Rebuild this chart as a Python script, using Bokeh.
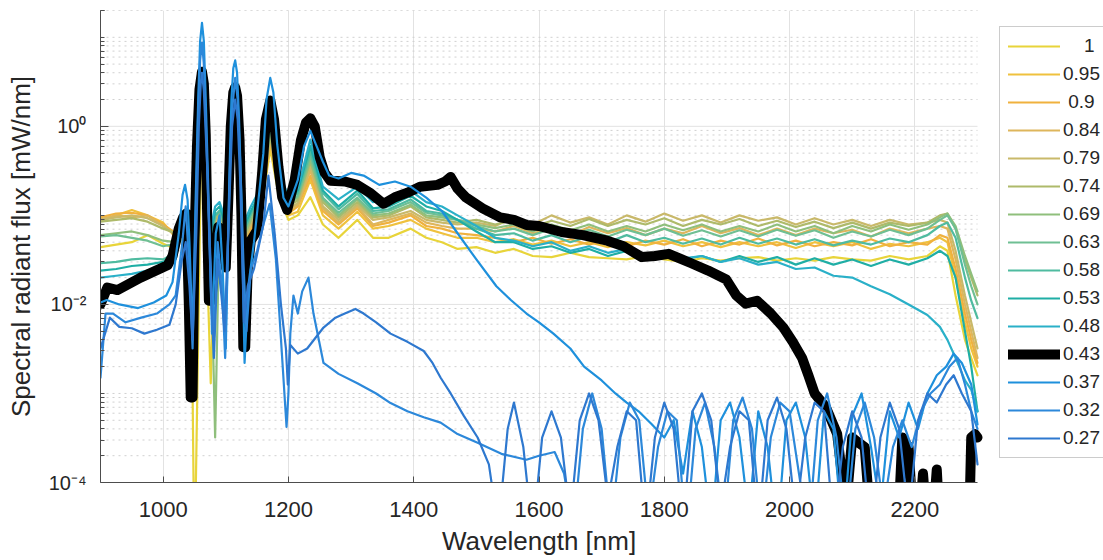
from bokeh.plotting import figure
from bokeh.models import Range1d, FixedTicker, CustomJSTickFormatter, Legend, LegendItem, Title
from bokeh.embed import file_html
from bokeh.resources import INLINE

# ---------------- data ----------------
labels = ["\u00a0\u00a0\u00a0\u00a01", "0.95", "\u00a00.9", "0.84", "0.79", "0.74", "0.69", "0.63",
          "0.58", "0.53", "0.48", "0.43", "0.37", "0.32", "0.27"]
colors = ["#E8D43A", "#EFC13E", "#F0B13E", "#DEB65C", "#C9B96A", "#AEBA6A", "#8FBF7C", "#6FBF93",
          "#4FBBA0", "#1FAEA5", "#2AB0C8", "#000000", "#1E90DC", "#2C88DA", "#2E78CF"]

# wavelength grid shared by the "flat" series (1 ... 0.48)
wl_flat = [900, 925, 950, 975, 1000, 1020, 1035, 1045, 1050, 1062,
           1076, 1083, 1090, 1100, 1115, 1128, 1140, 1155, 1171, 1185,
           1200, 1215, 1235, 1255, 1280, 1310, 1335, 1360, 1395, 1420,
           1445, 1470, 1500, 1530, 1560, 1590, 1620, 1650, 1680, 1710,
           1740, 1770, 1800, 1830, 1860, 1890, 1920, 1950, 1980, 2010,
           2040, 2070, 2100, 2130, 2160, 2190, 2220, 2240, 2252, 2265,
           2280, 2290, 2300]

flux_100 = [0.044, 0.047, 0.050, 0.060, 0.048, 0.042, 0.063, 0.025, 1e-5, 2.0,
            0.0013, 0.05, 0.079, 0.04, 1.0, 0.032, 0.05, 0.1, 0.56, 0.16,
            0.089, 0.1, 0.16, 0.079, 0.056, 0.089, 0.056, 0.056, 0.071, 0.056,
            0.05, 0.042, 0.044, 0.038, 0.042, 0.035, 0.034, 0.038, 0.034, 0.033,
            0.032, 0.035, 0.032, 0.030, 0.033, 0.031, 0.033, 0.034, 0.031, 0.033,
            0.031, 0.034, 0.032, 0.031, 0.035, 0.032, 0.035, 0.045, 0.040, 0.0126,
            0.004, 0.0025, 0.0016]
flux_095 = [0.087, 0.1, 0.115, 0.1, 0.083, 0.056, 0.071, 0.04, 0.063, 2.2,
            0.025, 0.063, 0.089, 0.05, 1.26, 0.04, 0.063, 0.11, 0.63, 0.18,
            0.1, 0.11, 0.25, 0.1, 0.071, 0.11, 0.071, 0.076, 0.089, 0.071,
            0.063, 0.056, 0.056, 0.05, 0.054, 0.047, 0.052, 0.045, 0.05, 0.044,
            0.05, 0.046, 0.052, 0.045, 0.05, 0.044, 0.05, 0.045, 0.05, 0.043,
            0.05, 0.045, 0.05, 0.042, 0.048, 0.045, 0.05, 0.056, 0.05, 0.02,
            0.0063, 0.0032, 0.002]
flux_090 = [0.095, 0.105, 0.107, 0.1, 0.079, 0.063, 0.079, 0.045, 0.079, 2.5,
            0.032, 0.071, 0.1, 0.056, 1.41, 0.045, 0.071, 0.126, 0.71, 0.2,
            0.105, 0.126, 0.28, 0.112, 0.079, 0.12, 0.076, 0.083, 0.1, 0.076,
            0.071, 0.063, 0.06, 0.056, 0.05, 0.056, 0.048, 0.054, 0.047, 0.054,
            0.045, 0.052, 0.047, 0.054, 0.045, 0.052, 0.047, 0.055, 0.046, 0.052,
            0.045, 0.05, 0.046, 0.054, 0.045, 0.05, 0.047, 0.06, 0.056, 0.025,
            0.0079, 0.004, 0.0022]
flux_084 = [0.091, 0.1, 0.095, 0.1, 0.076, 0.06, 0.079, 0.05, 0.079, 2.5,
            0.035, 0.079, 0.1, 0.063, 1.41, 0.05, 0.079, 0.126, 0.71, 0.2,
            0.112, 0.132, 0.32, 0.12, 0.083, 0.126, 0.079, 0.089, 0.105, 0.083,
            0.076, 0.071, 0.071, 0.066, 0.076, 0.063, 0.071, 0.06, 0.074, 0.063,
            0.072, 0.06, 0.071, 0.063, 0.076, 0.063, 0.072, 0.06, 0.071, 0.06,
            0.071, 0.063, 0.069, 0.058, 0.071, 0.063, 0.071, 0.076, 0.071, 0.032,
            0.01, 0.005, 0.0025]
flux_079 = [0.089, 0.095, 0.1, 0.093, 0.076, 0.06, 0.079, 0.05, 0.079, 2.8,
            0.04, 0.089, 0.105, 0.063, 1.58, 0.05, 0.079, 0.132, 0.79, 0.21,
            0.117, 0.138, 0.35, 0.126, 0.089, 0.132, 0.089, 0.095, 0.112, 0.089,
            0.083, 0.079, 0.083, 0.076, 0.095, 0.079, 0.1, 0.083, 0.095, 0.079,
            0.1, 0.085, 0.105, 0.087, 0.1, 0.083, 0.1, 0.087, 0.095, 0.079,
            0.093, 0.079, 0.089, 0.076, 0.089, 0.079, 0.083, 0.089, 0.083, 0.04,
            0.0126, 0.0063, 0.0032]
flux_074 = [0.085, 0.089, 0.093, 0.085, 0.071, 0.063, 0.083, 0.05, 0.089, 2.8,
            0.045, 0.089, 0.112, 0.066, 1.58, 0.056, 0.089, 0.141, 0.79, 0.224,
            0.126, 0.148, 0.4, 0.141, 0.095, 0.141, 0.095, 0.1, 0.126, 0.095,
            0.089, 0.083, 0.089, 0.079, 0.089, 0.074, 0.087, 0.076, 0.091, 0.076,
            0.089, 0.079, 0.093, 0.076, 0.089, 0.079, 0.091, 0.076, 0.087, 0.074,
            0.085, 0.072, 0.083, 0.071, 0.083, 0.076, 0.083, 0.1, 0.105, 0.071,
            0.032, 0.02, 0.0126]
flux_069 = [0.06, 0.063, 0.066, 0.06, 0.052, 0.05, 0.079, 0.05, 0.089, 3.2,
            0.05, 0.00032, 0.1, 0.071, 1.78, 0.056, 0.089, 0.148, 0.89, 0.24,
            0.132, 0.158, 0.42, 0.151, 0.1, 0.151, 0.1, 0.105, 0.132, 0.1,
            0.095, 0.089, 0.079, 0.072, 0.079, 0.066, 0.079, 0.068, 0.079, 0.066,
            0.076, 0.066, 0.079, 0.068, 0.079, 0.066, 0.076, 0.066, 0.079, 0.066,
            0.076, 0.063, 0.076, 0.066, 0.079, 0.069, 0.079, 0.095, 0.105, 0.076,
            0.035, 0.022, 0.014]
flux_063 = [0.058, 0.06, 0.056, 0.052, 0.045, 0.048, 0.079, 0.05, 0.1, 3.4,
            0.05, 0.1, 0.112, 0.071, 2.0, 0.063, 0.1, 0.158, 1.0, 0.25,
            0.138, 0.166, 0.47, 0.158, 0.107, 0.158, 0.105, 0.112, 0.141, 0.107,
            0.1, 0.089, 0.076, 0.066, 0.071, 0.06, 0.071, 0.06, 0.069, 0.058,
            0.069, 0.06, 0.071, 0.059, 0.068, 0.058, 0.068, 0.058, 0.069, 0.059,
            0.068, 0.056, 0.066, 0.058, 0.069, 0.06, 0.071, 0.089, 0.1, 0.071,
            0.028, 0.016, 0.01]
flux_058 = [0.029, 0.03, 0.032, 0.033, 0.032, 0.038, 0.089, 0.056, 0.1, 3.5,
            0.056, 0.1, 0.112, 0.079, 2.2, 0.063, 0.105, 0.166, 1.12, 0.26,
            0.145, 0.178, 0.52, 0.178, 0.117, 0.174, 0.112, 0.117, 0.151, 0.112,
            0.105, 0.089, 0.071, 0.06, 0.063, 0.052, 0.06, 0.05, 0.058, 0.05,
            0.06, 0.05, 0.056, 0.048, 0.055, 0.047, 0.056, 0.048, 0.055, 0.047,
            0.054, 0.046, 0.052, 0.047, 0.055, 0.05, 0.06, 0.076, 0.083, 0.056,
            0.02, 0.011, 0.007]
flux_053 = [0.024, 0.025, 0.027, 0.028, 0.03, 0.035, 0.1, 0.063, 0.112, 3.6,
            0.063, 0.112, 0.126, 0.079, 2.5, 0.071, 0.112, 0.178, 1.26, 0.28,
            0.151, 0.19, 0.6, 0.19, 0.126, 0.19, 0.12, 0.126, 0.166, 0.126,
            0.112, 0.089, 0.066, 0.05, 0.05, 0.042, 0.045, 0.038, 0.042, 0.035,
            0.04, 0.034, 0.038, 0.032, 0.035, 0.03, 0.035, 0.03, 0.034, 0.028,
            0.033, 0.028, 0.032, 0.027, 0.032, 0.028, 0.033, 0.04, 0.035, 0.02,
            0.005, 0.002, 0.00063]
flux_048 = [0.02, 0.021, 0.022, 0.024, 0.026, 0.032, 0.112, 0.063, 0.126, 3.8,
            0.071, 0.126, 0.141, 0.089, 2.8, 0.079, 0.126, 0.2, 1.41, 0.32,
            0.158, 0.2, 0.71, 0.21, 0.151, 0.21, 0.141, 0.151, 0.19, 0.141,
            0.126, 0.1, 0.076, 0.056, 0.052, 0.045, 0.05, 0.04, 0.045, 0.038,
            0.042, 0.035, 0.04, 0.033, 0.035, 0.03, 0.033, 0.028, 0.03, 0.025,
            0.026, 0.021, 0.02, 0.016, 0.013, 0.01, 0.0076, 0.0056, 0.004, 0.0025,
            0.0014, 0.0011, 0.00063]

# 0.43 (thick black)
wl_043 = [900, 911, 927, 964, 1007, 1015, 1025, 1032, 1037, 1041,
          1044, 1047, 1050, 1054, 1058, 1062, 1065, 1068, 1071, 1073,
          1077, 1082, 1088, 1095, 1100, 1104, 1108, 1112, 1115, 1118,
          1122, 1125, 1128, 1131, 1135, 1140, 1150, 1158, 1164, 1171,
          1177, 1184, 1190, 1198, 1210, 1220, 1228, 1235, 1242, 1250,
          1258, 1267, 1290, 1310, 1330, 1352, 1370, 1390, 1410, 1438,
          1450, 1459, 1470, 1483, 1510, 1538, 1560, 1580, 1600, 1636,
          1670, 1709, 1735, 1764, 1785, 1807, 1843, 1870, 1899, 1915,
          1930, 1948, 1970, 1990, 2005, 2020, 2030, 2040, 2058, 2076,
          2090, 2100, 2110, 2120, 2130, 2140, 2170, 2180, 2190, 2198,
          2206, 2213, 2220, 2228, 2235, 2240, 2245, 2285, 2290, 2296,
          2300]
flux_043 = [0.01, 0.0155, 0.0145, 0.02, 0.0275, 0.035, 0.071, 0.095, 0.105, 0.01,
            0.0009, 0.0009, 0.05, 0.6, 2.6, 4.1, 3.0, 0.8, 0.05, 0.011,
            0.011, 0.032, 0.074, 0.04, 0.026, 0.15, 1.0, 2.4, 2.75, 2.2,
            0.7, 0.1, 0.0033, 0.0033, 0.025, 0.052, 0.068, 0.3, 1.2, 1.95,
            1.2, 0.35, 0.16, 0.115, 0.25, 0.7, 1.1, 1.23, 1.0, 0.45,
            0.3, 0.245, 0.24, 0.22, 0.18, 0.135, 0.16, 0.18, 0.21, 0.22,
            0.24, 0.27, 0.2, 0.16, 0.12, 0.095, 0.089, 0.078, 0.076, 0.065,
            0.06, 0.052, 0.045, 0.034, 0.035, 0.037, 0.029, 0.024, 0.019, 0.0126,
            0.0102, 0.011, 0.0079, 0.0055, 0.0038, 0.0025, 0.0016, 0.001, 0.0007, 0.00035,
            5e-5, 0.00032, 0.00028, 0.00025, 3e-5, 1e-5, 1e-5, 0.00032, 0.00025, 3e-5,
            3e-5, 0.000126, 3e-5, 3e-5, 0.00014, 3e-5, 1e-5, 1e-5, 0.00032, 0.00035,
            0.00032]

# 0.37
wl_037 = [900, 910, 930, 960, 985, 1005, 1015, 1025, 1031, 1035,
          1039, 1042, 1047, 1052, 1056, 1059, 1062, 1065, 1068, 1072,
          1078, 1084, 1090, 1095, 1100, 1106, 1109, 1112, 1115, 1118,
          1121, 1125, 1130, 1136, 1145, 1160, 1165, 1171, 1176, 1182,
          1192, 1200, 1215, 1225, 1235, 1245, 1255, 1265, 1280, 1300,
          1320, 1345, 1370, 1395, 1420, 1445, 1470, 1500, 1532, 1555,
          1580, 1600, 1623, 1650, 1672, 1700, 1722, 1740, 1759, 1780,
          1800, 1815, 1830, 1845, 1860, 1875, 1890, 1905, 1920, 1935,
          1950, 1965, 1980, 1995, 2010, 2025, 2040, 2055, 2070, 2085,
          2100, 2115, 2130, 2145, 2160, 2175, 2190, 2205, 2220, 2235,
          2250, 2262, 2275, 2290, 2300]
flux_037 = [0.0105, 0.0112, 0.01, 0.0091, 0.0105, 0.0126, 0.0178, 0.063, 0.17, 0.22,
            0.15, 0.05, 0.0043, 0.158, 2.0, 9.0, 14.5, 9.0, 2.0, 0.2,
            0.0047, 0.063, 0.1, 0.025, 0.0032, 0.32, 2.0, 4.5, 5.5, 4.0,
            1.3, 0.15, 0.0022, 0.016, 0.05, 0.5, 2.0, 3.5, 2.4, 0.63,
            0.158, 0.126, 0.25, 0.6, 0.89, 0.6, 0.4, 0.28, 0.26, 0.3,
            0.28, 0.22, 0.24, 0.21, 0.158, 0.112, 0.063, 0.032, 0.016, 0.0112,
            0.0079, 0.0063, 0.0047, 0.0032, 0.002, 0.0014, 0.001, 0.00079, 0.00063, 0.00045,
            0.00032, 0.0005, 0.000126, 0.00063, 0.00025, 3e-5, 0.0005, 0.00079, 0.00032, 4e-5,
            0.00063, 0.00025, 2.5e-5, 0.0005, 0.00079, 0.00032, 3e-5, 0.00063, 0.0004, 2.5e-5,
            0.00056, 0.001, 0.00025, 5e-5, 0.00063, 0.00032, 0.00079, 0.0004, 0.001, 0.0016,
            0.002, 0.0028, 0.0022, 0.00126, 0.00045]

# 0.32
wl_032 = [900, 908, 920, 940, 965, 990, 1010, 1020, 1030, 1036,
          1042, 1047, 1052, 1056, 1059, 1062, 1065, 1068, 1072, 1076,
          1081, 1087, 1094, 1099, 1106, 1110, 1115, 1119, 1123, 1128,
          1133, 1140, 1150, 1160, 1170, 1180, 1190, 1197, 1200, 1203,
          1208, 1215, 1222, 1232, 1240, 1256, 1280, 1310, 1340, 1363,
          1390, 1416, 1443, 1470, 1502, 1540, 1580, 1600, 1625, 1640,
          1655, 1670, 1685, 1700, 1715, 1730, 1745, 1760, 1775, 1790,
          1805, 1820, 1835, 1850, 1865, 1880, 1895, 1910, 1925, 1940,
          1955, 1970, 1985, 2000, 2015, 2030, 2045, 2060, 2075, 2090,
          2105, 2120, 2135, 2150, 2165, 2180, 2195, 2210, 2225, 2240,
          2255, 2268, 2280, 2290, 2300]
flux_032 = [0.0015, 0.0079, 0.0079, 0.0063, 0.0071, 0.0079, 0.01, 0.0126, 0.045, 0.126,
            0.025, 0.0032, 0.1, 1.5, 5.5, 8.7, 5.0, 1.2, 0.15, 0.025,
            0.004, 0.05, 0.016, 0.0025, 0.25, 1.5, 3.5, 2.0, 0.4, 0.032,
            0.005, 0.025, 0.04, 0.079, 0.135, 0.032, 0.0025, 0.00042, 0.001, 0.0047,
            0.0126, 0.0079, 0.014, 0.02, 0.0079, 0.0022, 0.00166, 0.0013, 0.001, 0.00078,
            0.00063, 0.00054, 0.00047, 0.00035, 0.00028, 0.00021, 0.00018, 0.0002, 0.00022, 0.000126,
            3e-5, 0.0004, 0.001, 0.0004, 3e-5, 0.00032, 0.00079, 0.0005, 4e-5, 0.00025,
            0.00063, 0.0005, 2.5e-5, 0.0004, 0.00079, 0.00025, 3e-5, 0.0005, 0.0009, 0.0004,
            3e-5, 0.00032, 0.00079, 0.00063, 0.000126, 2.5e-5, 0.0005, 0.001, 0.00032, 3e-5,
            0.0004, 0.00079, 0.00032, 5e-5, 0.00025, 0.0005, 0.00025, 0.00063, 0.001, 0.00126,
            0.002, 0.0025, 0.00126, 0.00063, 0.0004]

# 0.27
wl_027 = [900, 915, 930, 950, 970, 990, 1010, 1020, 1030, 1036,
          1042, 1047, 1053, 1057, 1060, 1062, 1065, 1070, 1076, 1081,
          1087, 1093, 1098, 1106, 1110, 1115, 1119, 1123, 1129, 1135,
          1145, 1160, 1168, 1178, 1188, 1196, 1199, 1203, 1215, 1230,
          1256, 1275, 1290, 1307, 1320, 1340, 1363, 1390, 1416, 1430,
          1443, 1459, 1480, 1502, 1520, 1535, 1550, 1560, 1575, 1590,
          1605, 1620, 1635, 1650, 1665, 1680, 1695, 1710, 1725, 1740,
          1755, 1770, 1785, 1800, 1815, 1830, 1845, 1860, 1875, 1890,
          1905, 1920, 1935, 1950, 1965, 1980, 1995, 2010, 2025, 2040,
          2055, 2070, 2085, 2100, 2115, 2130, 2145, 2160, 2175, 2190,
          2205, 2220, 2235, 2250, 2262, 2275, 2290, 2300]
flux_027 = [0.0032, 0.0071, 0.0056, 0.0054, 0.0047, 0.0052, 0.0059, 0.01, 0.032, 0.05,
            0.016, 0.004, 0.063, 1.0, 3.0, 4.0, 2.5, 0.4, 0.016, 0.0025,
            0.032, 0.0126, 0.005, 0.158, 1.0, 2.0, 1.2, 0.25, 0.0063, 0.016,
            0.025, 0.079, 0.28, 0.063, 0.01, 0.0032, 0.00126, 0.0035, 0.0028, 0.0032,
            0.0055, 0.0071, 0.0079, 0.0089, 0.0079, 0.0063, 0.0047, 0.0038, 0.003, 0.0022,
            0.0015, 0.001, 0.00056, 0.00032, 0.00016, 3e-5, 0.0004, 0.00079, 0.00025, 2.5e-5,
            0.00032, 0.00063, 0.00032, 4e-5, 0.0005, 0.001, 0.0005, 6.3e-5, 0.00025, 0.00063,
            0.0005, 3e-5, 0.00032, 0.00079, 0.0004, 3e-5, 0.00063, 0.001, 0.0005, 5e-5,
            0.00025, 0.00063, 0.0005, 3e-5, 0.0005, 0.0009, 0.0004, 4e-5, 0.00032, 0.00079,
            0.00063, 3e-5, 0.00025, 0.00063, 0.00032, 2.5e-5, 0.00032, 0.00079, 0.0004, 4e-5,
            0.0005, 0.001, 0.00079, 0.00126, 0.0016, 0.001, 0.00063, 0.00016]

x_ticks = [1000, 1200, 1400, 1600, 1800, 2000, 2200]
y_ticks = [1e-4, 1e-2, 1.0]
x_min, x_max = 900, 2300

series = [
    (wl_flat, flux_100), (wl_flat, flux_095), (wl_flat, flux_090), (wl_flat, flux_084),
    (wl_flat, flux_079), (wl_flat, flux_074), (wl_flat, flux_069), (wl_flat, flux_063),
    (wl_flat, flux_058), (wl_flat, flux_053), (wl_flat, flux_048), (wl_043, flux_043),
    (wl_037, flux_037), (wl_032, flux_032), (wl_027, flux_027),
]

# ---------------- figure ----------------
FONT = "Liberation Sans"
FRAME_L, FRAME_R_AXES, FRAME_R = 100, 977, 1103   # axes box ends at 977 px; frame runs on to hold the legend
x_end = x_min + (x_max - x_min) * (FRAME_R - FRAME_L) / (FRAME_R_AXES - FRAME_L)

p = figure(width=1103, height=560, output_backend="svg", toolbar_location=None,
           y_axis_type="log", x_range=Range1d(x_min, x_end), y_range=Range1d(1e-4, 20),
           min_border_left=FRAME_L, min_border_right=0, min_border_top=10, min_border_bottom=78)
p.outline_line_color = None
p.background_fill_color = "white"

minor_y = [m * 10.0 ** e for e in range(-4, 2) for m in range(1, 10)
           if m * 10.0 ** e <= 20.0001 and (m * 10.0 ** e) not in y_ticks]
minor_y.append(20.0)

# horizontal grid lines limited to the axes box (900..2300 nm)
p.ygrid.visible = False
p.multi_line([[x_min, x_max]] * len(minor_y), [[v, v] for v in minor_y],
             line_color="#d0d0d0", line_width=1, line_dash="2 4")
p.multi_line([[x_min, x_max]] * len(y_ticks), [[v, v] for v in y_ticks],
             line_color="#e2e2e2", line_width=1)

renderers = []
for (wl, fl), col in zip(series, colors):
    lw = 10 if col == "#000000" else 2.2
    r = p.line(wl, fl, line_color=col, line_width=lw, line_join="round", line_cap="round")
    renderers.append(r)

p.xaxis.ticker = FixedTicker(ticks=x_ticks, minor_ticks=[])
p.xaxis.bounds = (x_min, x_max)
p.yaxis.ticker = FixedTicker(ticks=y_ticks, minor_ticks=minor_y)
p.yaxis.formatter = CustomJSTickFormatter(code="""
const e = Math.round(Math.log10(tick));
const sup = {'-': '\u207b', '0': '\u2070', '1': '\u00b9', '2': '\u00b2', '3': '\u00b3',
             '4': '\u2074', '5': '\u2075', '6': '\u2076', '7': '\u2077', '8': '\u2078', '9': '\u2079'};
return '10' + String(e).split('').map(c => sup[c]).join('');
""")

for ax in (p.xaxis[0], p.yaxis[0]):
    ax.axis_line_color = "#4d4d4d"
    ax.major_tick_line_color = "#4d4d4d"
    ax.minor_tick_line_color = "#4d4d4d"
    ax.major_tick_out = 0
    ax.minor_tick_out = 0
    ax.major_label_text_color = "#262626"
    ax.major_label_text_font = FONT
    ax.axis_label_text_font = FONT
    ax.axis_label_text_font_style = "normal"
    ax.axis_label_text_color = "#262626"
    ax.axis_label_text_font_size = "26px"
    ax.axis_label_text_line_height = 1.0
    ax.major_label_text_line_height = 1.0

p.xaxis.major_label_text_font_size = "22px"
p.xaxis.major_tick_in = 6
p.xaxis.major_label_standoff = 19

# x-axis title, centred under the axes box (900..2300 nm)
xlabel = "Wavelength [nm]"
x_center_px = (FRAME_L + FRAME_R_AXES) / 2
xtitle = Title(text=xlabel, align="left", offset=x_center_px - FRAME_L - 97,
               vertical_align="bottom", standoff=8,
               text_font=FONT, text_font_size="26px", text_font_style="normal",
               text_color="#262626", text_line_height=1.0)
p.add_layout(xtitle, "below")

p.yaxis.axis_label = "Spectral radiant flux [mW/nm]"
p.yaxis.major_label_text_font_size = "20px"
p.yaxis.major_tick_in = 8
p.yaxis.minor_tick_in = 4
p.yaxis.major_label_standoff = 14
p.yaxis.axis_label_standoff = 10

p.xgrid.grid_line_color = "#e2e2e2"

items = [LegendItem(label=lab, renderers=[r]) for lab, r in zip(labels, renderers)]
legend = Legend(items=items, location=(999 - FRAME_L, 24), orientation="vertical",
                padding=8, spacing=6, margin=0,
                glyph_width=52, glyph_height=20, label_height=20, label_standoff=3,
                label_text_font=FONT, label_text_font_size="19px", label_text_color="#262626",
                border_line_color="#9a9a9a", border_line_width=1,
                background_fill_color="white", background_fill_alpha=1.0)
p.add_layout(legend)

open("out.html", "w").write(file_html(p, INLINE))
